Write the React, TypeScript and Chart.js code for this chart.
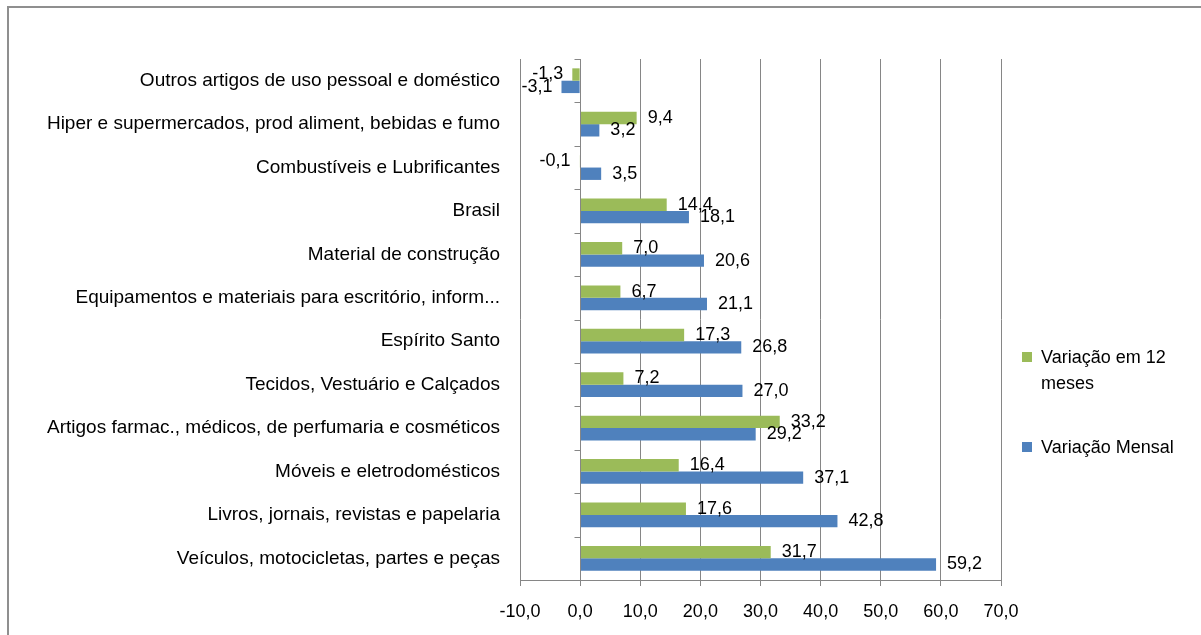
import React, { useEffect, useRef } from "react";
import { Chart, registerables } from "chart.js";

Chart.register(...registerables);

const categories: string[] = [
  "Outros artigos de uso pessoal e doméstico",
  "Hiper e supermercados, prod aliment, bebidas e fumo",
  "Combustíveis e Lubrificantes",
  "Brasil",
  "Material de construção",
  "Equipamentos e materiais para escritório, inform...",
  "Espírito Santo",
  "Tecidos, Vestuário e Calçados",
  "Artigos farmac., médicos, de perfumaria e cosméticos",
  "Móveis e eletrodomésticos",
  "Livros, jornais, revistas e papelaria",
  "Veículos, motocicletas, partes e peças",
];

const variacao12Meses: number[] = [-1.3, 9.4, -0.1, 14.4, 7.0, 6.7, 17.3, 7.2, 33.2, 16.4, 17.6, 31.7];
const variacaoMensal: number[] = [-3.1, 3.2, 3.5, 18.1, 20.6, 21.1, 26.8, 27.0, 29.2, 37.1, 42.8, 59.2];

const seriesNames: string[] = ["Variação em 12 meses", "Variação Mensal"];
const legendLines: string[][] = [["Variação em 12", "meses"], ["Variação Mensal"]];
const seriesColors: string[] = ["#9BBB59", "#4F81BD"];

const xMin = -10;
const xMax = 70;
const xStep = 10;

const FONT = "'Liberation Sans', Arial, sans-serif";
const GRID = "#868686";

const fmt = (v: number) => v.toFixed(1).replace(".", ",");

const dataLabelPlugin = {
  id: "dataLabels",
  afterDatasetsDraw(chart: any) {
    const ctx = chart.ctx;
    ctx.save();
    ctx.font = `18px ${FONT}`;
    ctx.fillStyle = "#000";
    ctx.textBaseline = "middle";
    chart.data.datasets.forEach((ds: any, di: number) => {
      const meta = chart.getDatasetMeta(di);
      meta.data.forEach((el: any, i: number) => {
        const v = ds.data[i] as number;
        const txt = fmt(v);
        if (v >= 0) {
          ctx.textAlign = "left";
          ctx.fillText(txt, el.x + 11, el.y);
        } else {
          ctx.textAlign = "right";
          ctx.fillText(txt, el.x - 9, el.y);
        }
      });
    });
    ctx.restore();
  },
};

const axisTicksPlugin = {
  id: "axisTicks",
  afterDraw(chart: any) {
    const ctx = chart.ctx;
    const xs = chart.scales.x;
    const ys = chart.scales.y;
    const x0 = Math.round(xs.getPixelForValue(0)) + 0.5;
    const half = (ys.getPixelForValue(1) - ys.getPixelForValue(0)) / 2;
    ctx.save();
    ctx.strokeStyle = GRID;
    ctx.lineWidth = 1;
    ctx.beginPath();
    ctx.moveTo(x0, chart.chartArea.top);
    ctx.lineTo(x0, chart.chartArea.bottom);
    for (let i = 0; i <= categories.length; i++) {
      const y = Math.round(ys.getPixelForValue(0) - half + i * 2 * half) + 0.5;
      ctx.moveTo(x0 - 6, y);
      ctx.lineTo(x0, y);
    }
    ctx.stroke();
    ctx.restore();
  },
};

const legendPlugin = {
  id: "customLegend",
  afterDraw(chart: any) {
    const ctx = chart.ctx;
    ctx.save();
    ctx.font = `18px ${FONT}`;
    ctx.textBaseline = "middle";
    ctx.textAlign = "left";
    const starts = [357, 447];
    legendLines.forEach((lines, i) => {
      const y = starts[i];
      ctx.fillStyle = seriesColors[i];
      ctx.fillRect(1022, y - 5, 10, 10);
      ctx.fillStyle = "#000";
      lines.forEach((ln, j) => {
        ctx.fillText(ln, 1041, y + 1 + j * 26);
      });
    });
    ctx.restore();
  },
};

export default function App() {
  const ref = useRef<HTMLCanvasElement>(null);
  useEffect(() => {
    if (!ref.current) return;
    const chart = new Chart(ref.current, {
      type: "bar",
      data: {
        labels: categories,
        datasets: [
          {
            label: seriesNames[0],
            data: variacao12Meses,
            backgroundColor: seriesColors[0],
            barPercentage: 1,
            categoryPercentage: 0.57,
          },
          {
            label: seriesNames[1],
            data: variacaoMensal,
            backgroundColor: seriesColors[1],
            barPercentage: 1,
            categoryPercentage: 0.57,
          },
        ],
      },
      options: {
        indexAxis: "y",
        animation: false,
        responsive: false,
        devicePixelRatio: 1,
        layout: { padding: { left: 10, top: 59, right: 200, bottom: 0 } },
        plugins: {
          legend: { display: false },
          tooltip: { enabled: false },
        },
        scales: {
          x: {
            type: "linear",
            min: xMin,
            max: xMax,
            afterFit: (s: any) => {
              s.height = 55;
            },
            ticks: {
              stepSize: xStep,
              padding: 15,
              color: "#000",
              font: { family: FONT, size: 18 },
              callback: (v: any) => fmt(Number(v)),
            },
            grid: { color: GRID, lineWidth: 1, drawTicks: true, tickLength: 6, tickColor: GRID },
            border: { display: true, color: GRID },
          },
          y: {
            type: "category",
            afterFit: (s: any) => {
              s.width = 510;
            },
            ticks: {
              padding: 12,
              color: "#000",
              autoSkip: false,
              font: { family: FONT, size: 19 },
            },
            grid: { display: false },
            border: { display: false },
          },
        },
      },
      plugins: [axisTicksPlugin, dataLabelPlugin, legendPlugin],
    } as any);
    return () => chart.destroy();
  }, []);

  return (
    <>
      <div
        style={{
          position: "fixed",
          left: 7,
          top: 6,
          width: 1194,
          height: 629,
          borderLeft: "2px solid #8f8f8f",
          borderTop: "2px solid #8f8f8f",
          boxSizing: "border-box",
        }}
      />
      <canvas
        ref={ref}
        width={1201}
        height={635}
        style={{ position: "fixed", left: 0, top: 0, width: 1201, height: 635 }}
      />
    </>
  );
}
